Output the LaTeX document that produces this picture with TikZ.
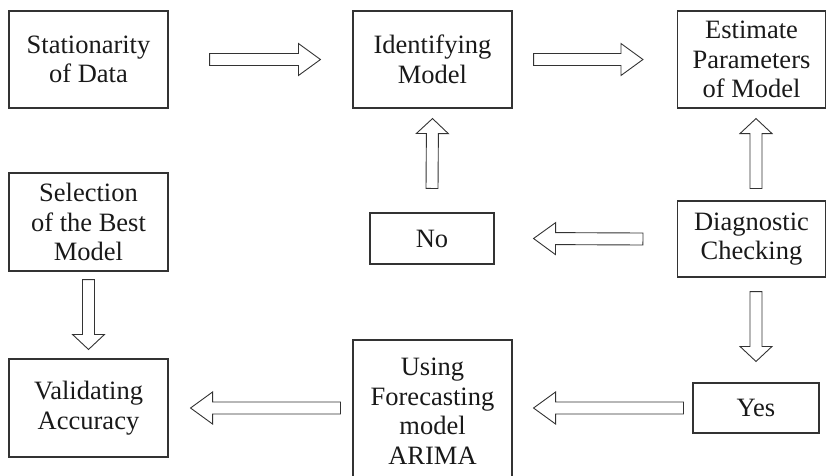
\documentclass[tikz,border=0pt]{standalone}
\usepackage{fontspec}
\setmainfont{Liberation Serif}
\usetikzlibrary{calc}
\tikzset{
  box/.style={draw=black!80, line width=1.1pt, align=center, inner sep=0pt,
    font=\fontsize{26.5}{29.5}\selectfont, text=black!90},
  fat/.style={draw=black!80, line width=0.9pt, to path={
    let \p1=($(\tikztotarget)!#1!(\tikztostart)$) in
    ($(\tikztostart)!6pt!90:(\tikztotarget)$)
    -- ($(\p1)!6pt!90:(\tikztotarget)$) -- ($(\p1)!16pt!90:(\tikztotarget)$)
    -- (\tikztotarget)
    -- ($(\p1)!16pt!-90:(\tikztotarget)$) -- ($(\p1)!6pt!-90:(\tikztotarget)$)
    -- ($(\tikztostart)!6pt!-90:(\tikztotarget)$) -- cycle}},
  fat/.default=22pt
}
\begin{document}
\begin{tikzpicture}[x=1pt,y=-1pt]
  \useasboundingbox (0,0) rectangle (826,475);
  % top row
  \node[box, minimum width=159pt, minimum height=97pt] (stat) at (88.5,59.5) {Stationarity\\of Data};
  \node[box, minimum width=159pt, minimum height=97pt] (ident) at (432.5,59.5) {Identifying\\Model};
  \node[box, minimum width=148pt, minimum height=97pt] (est) at (751.5,59.5) {Estimate\\Parameters\\of Model};
  % middle row
  \node[box, minimum width=159pt, minimum height=98pt] (sel) at (88.5,222) {Selection\\of the Best\\Model};
  \node[box, minimum width=124pt, minimum height=51pt] (no) at (432,238.5) {No};
  \node[box, minimum width=148pt, minimum height=76pt] (diag) at (751.5,239) {Diagnostic\\Checking};
  % bottom row
  \node[box, minimum width=159pt, minimum height=98pt] (valid) at (88.5,408) {Validating\\Accuracy};
  \node[box, minimum width=159pt, minimum height=142pt] (using) at (432.5,411) {Using\\Forecasting\\model\\ARIMA};
  \node[box, minimum width=126pt, minimum height=50pt] (yes) at (756,408) {Yes};
  % block arrows
  \draw[fat] ($(stat.east)+(41,0)$) to ($(ident.west)+(-32,0)$);
  \draw[fat] ($(ident.east)+(21,0)$) to ($(est.west)+(-34,0)$);
  \draw[fat=15pt] ($(no.north)+(0,-24)$) to ($(ident.south)+(0,10)$);
  \draw[fat=15pt] ($(diag.north)+(4.5,-12)$) to ($(est.south)+(4.5,10)$);
  \draw[fat] ($(diag.west)+(-34,0)$) to ($(no.east)+(39,0)$);
  \draw[fat=15pt] ($(diag.south)+(4.5,14)$) to ($(yes.north)+(0,-21)$);
  \draw[fat] ($(yes.west)+(-9,0)$) to ($(using.east)+(21,-3)$);
  \draw[fat] ($(using.west)+(-12,-3)$) to ($(valid.east)+(22,0)$);
  \draw[fat=15pt] ($(sel.south)+(0,8)$) to ($(valid.north)+(0,-9)$);
\end{tikzpicture}
\end{document}
